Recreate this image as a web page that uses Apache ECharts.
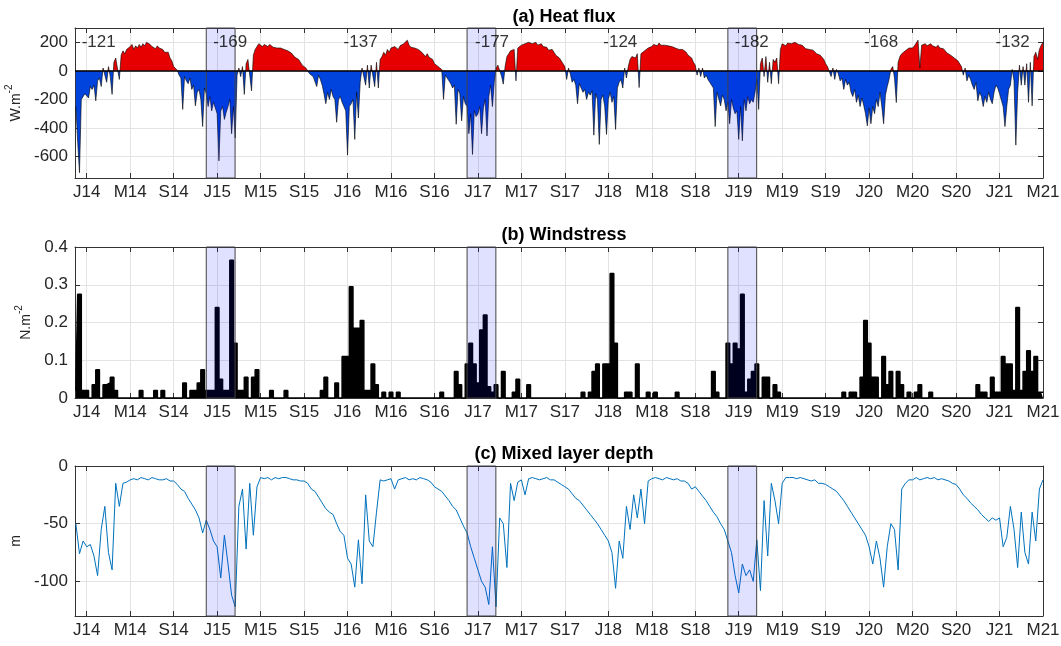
<!DOCTYPE html>
<html>
<head>
<meta charset="utf-8">
<title>Heat flux, windstress and mixed layer depth</title>
<script src="https://cdn.jsdelivr.net/npm/echarts@6/dist/echarts.min.js"></script>
<style>
  html, body { margin: 0; padding: 0; background: #fff; }
  #main { width: 1061px; height: 646px; }
</style>
</head>
<body>
<div id="main"></div>
<script>
// time in months since Jan 2014, all series start at Dec 2013 (month -1)
var t0 = -1;
var fluxStep = 1 / 6;   // heat flux: one sample every ~5 days
var step = 1 / 3;       // windstress and MLD: one sample every ~10 days

// (a) net heat flux, W.m-2  (6 values per month)
var heatFlux = [
  -250, -500, -713, -200, -190, -160,
  -150, -190, -110, -130, -100, -210,  -70, -50, -110, 20, 30, -80,  30, -40, -165, 60, 90, 100,  -60, 110, 140, 120, 150, 160,          // J14
  170, 185, 150, 175, 160, 185,  165, 190, 175, 200, 205, 185,  170, 180, 155, 175, 160, 150,  150, 130, 120, 130, 90, 70,              // M14
  30, 20, 5, -30, -50, -270,  -40, -70, -90, -50, -130, -100,  -245, -150, -130, -200, -390, -120,  -160, -250, -180, -280, -220, -260, // S14
  -300, -630, -280, -250, -340, -290,  -250, -200, -440, -250, -470, -30,  20, -40, 30, -165, 50, 80,  90, -140, 110, 150, 170, 190,    // J15
  200, 170, 185, 195, 170, 185,  175, 165, 170, 160, 165, 160,  160, 150, 155, 140, 130, 125,  110, 95, 100, 80, 60, 40,                // M15
  30, 20, 10, -20, -10, -40,  -40, -110, -30, -60, -100, -160,  -230, -150, -200, -130, -180, -200,  -360, -200, -180, -220, -250, -280, // S15
  -590, -250, -230, -200, -480, -150,  -330, -80, 20, 30, -100, 40,  -120, 40, 50, -110, 60, -120,  80, 100, 130, 110, 150, 130,        // J16
  160, 150, 170, 165, 150, 175,  175, 190, 200, 215, 180, 165,  170, 160, 165, 150, 145, 130,  120, 100, 120, 95, 105, 80,              // M16
  50, 60, 30, 20, 10, -200,  -30, -50, -70, -90, -120, -100,  -374, -130, -160, -350, -180, -230,  -250, -440, -300, -585, -280, -320,  // S16
  -300, -250, -440, -260, -200, -456,  -180, -100, -250, -80, 20, 40,  30, -35, -93, 30, 100, 120,  140, 130, 150, -70, 160, 170,       // J17
  180, 175, 190, 185, 200, 195,  190, 185, 200, 180, 175, 190,  170, 160, 165, 145, 140, 150,  130, 110, 100, 90, 80, 50,               // M17
  30, -60, 20, -20, -80, -60,  -100, -230, -90, -100, -150, -130,  -200, -150, -170, -140, -450, -160,  -200, -515, -200, -170, -250, -445, // S17
  -200, -150, -220, -180, -410, -120,  -80, -60, -120, 20, -50, 30,  80, 100, 110, 90, 120, -117,  120, 130, 140, 150, 160, 150,        // J18
  170, 185, 190, 175, 195, 180,  190, 180, 185, 175, 180, 170,  165, 160, 170, 150, 160, 150,  140, 130, 110, 100, 90, 60,              // M18
  40, -30, 20, -40, 20, -50,  -30, -60, -80, -100, -120, -390,  -150, -140, -245, -170, -200, -280,  -220, -370, -200, -260, -300, -280, // S18
  -480, -250, -490, -200, -280, -180,  -230, -200, -220, -150, -60, -270,  50, 90, -40, 100, -80, 60,  -90, 80, 60, 90, -90, 150,       // J19
  190, 180, 175, 195, 200, 190,  195, 200, 190, 185, 195, 180,  170, 155, 165, 150, 160, 145,  140, 120, 130, 110, 100, 80,              // M19
  50, 30, 20, -40, 20, -60,  10, -20, -70, -50, -130, -60,  -100, -80, -150, -180, -130, -220,  -170, -250, -190, -240, -300, -385,    // S19
  -260, -370, -250, -300, -200, -250,  -150, -250, -370, -170, -110, -60,  10, 30, -50, -222, 60, 100,  120, 110, 140, 150, 160, 150,   // J20
  160, 175, 185, 215, 20, 180,  185, 190, 175, 180, 190, 175,  175, 165, 180, 160, 150, 155,  140, 125, 120, 110, 100, 90,              // M20
  80, 70, 60, 30, -30, 20,  -70, -30, -60, -100, -130, -80,  -210, -150, -180, -250, -180, -220,  -150, -200, -230, -150, -100, -120,   // S20
  -160, -150, -250, -390, -250, -130,  -100, 10, -70, -520, -150, 40,  -100, 30, -100, 50, -220, 60,  -245, 100, 130, 80, 150, 180,     // J21
  200
];

// (b) wind stress, N.m-2  (3 values per month)
var windStress = [
  0.02, 0.275, 0.02,
  0.02, 0, 0.035, 0.075, 0, 0.035, 0.04, 0.055, 0.02, 0, 0, 0,
  0, 0, 0, 0.02, 0, 0, 0, 0.02, 0, 0.02, 0, 0,
  0, 0, 0, 0.04, 0, 0.02, 0.02, 0.04, 0.075, 0.02, 0.02, 0.02,
  0.24, 0.05, 0.02, 0.02, 0.365, 0.145, 0.02, 0.02, 0.055, 0, 0.055, 0.075,
  0, 0, 0, 0.02, 0, 0, 0, 0.02, 0, 0, 0, 0,
  0, 0, 0, 0, 0, 0.02, 0.055, 0, 0, 0.04, 0, 0.11,
  0.11, 0.295, 0.185, 0.185, 0.205, 0.02, 0.02, 0.09, 0.035, 0, 0.015, 0,
  0.015, 0, 0.015, 0, 0, 0, 0, 0, 0, 0, 0, 0,
  0, 0, 0.015, 0, 0, 0, 0.07, 0.035, 0, 0.09, 0.145, 0.09,
  0.04, 0.18, 0.22, 0.03, 0.015, 0.035, 0, 0.07, 0, 0, 0.015, 0.05,
  0, 0, 0.035, 0, 0, 0, 0, 0, 0, 0, 0, 0,
  0, 0, 0, 0, 0, 0.015, 0, 0.015, 0.07, 0.09, 0, 0.09,
  0.09, 0.33, 0.145, 0, 0, 0.015, 0.015, 0, 0.09, 0, 0, 0.015,
  0, 0.015, 0, 0, 0, 0, 0, 0.015, 0, 0, 0, 0,
  0, 0, 0, 0, 0, 0.07, 0.015, 0, 0, 0.145, 0.09, 0.145,
  0.13, 0.275, 0.015, 0.05, 0.07, 0.09, 0, 0.055, 0.055, 0, 0.035, 0.015,
  0, 0, 0, 0, 0, 0, 0, 0, 0, 0, 0, 0,
  0, 0, 0, 0, 0, 0.015, 0, 0.015, 0.015, 0, 0.055, 0.205,
  0.145, 0.055, 0.055, 0, 0.11, 0.035, 0.07, 0, 0.07, 0.035, 0, 0.015,
  0, 0.015, 0.035, 0, 0, 0.015, 0, 0, 0, 0, 0, 0,
  0, 0, 0, 0, 0, 0, 0.035, 0.015, 0.015, 0, 0.055, 0.015,
  0.015, 0.11, 0.09, 0.09, 0.02, 0.24, 0.02, 0.07, 0.125, 0.07, 0.11, 0.015,
  0.015
];

// (c) mixed layer depth, m  (3 values per month)
var mld = [
  -50, -76, -65,
  -70, -68, -78, -95, -55, -35, -75, -90, -15, -35, -15, -14,
  -12, -11, -12, -10, -11, -12, -10, -11, -12, -12, -11, -13,
  -13, -16, -20, -22, -28, -33, -38, -45, -58, -47, -55, -65,
  -70, -97, -60, -85, -112, -122, -35, -20, -72, -15, -60, -18,
  -10, -11, -10, -12, -10, -11, -10, -10, -11, -12, -12, -13,
  -13, -15, -20, -22, -27, -32, -37, -40, -42, -50, -57, -60,
  -80, -85, -105, -64, -102, -25, -65, -70, -40, -12, -13, -12,
  -11, -20, -12, -11, -10, -12, -11, -12, -10, -11, -12, -14,
  -18, -20, -22, -26, -30, -35, -38, -45, -52, -58, -70, -80,
  -90, -100, -105, -120, -70, -122, -45, -50, -88, -15, -30, -14,
  -12, -25, -11, -10, -11, -12, -11, -10, -12, -12, -14, -16,
  -18, -20, -24, -28, -30, -34, -38, -42, -46, -50, -55, -60,
  -65, -75, -106, -65, -80, -35, -55, -25, -45, -20, -50, -13,
  -11, -10, -11, -12, -10, -11, -12, -11, -13, -13, -15, -20,
  -18, -22, -26, -30, -35, -40, -44, -50, -55, -65, -75, -95,
  -110, -85, -95, -90, -100, -64, -108, -30, -78, -15, -30, -50,
  -15, -10, -10, -10, -11, -10, -11, -12, -13, -12, -15, -15,
  -16, -18, -20, -22, -26, -30, -35, -40, -45, -50, -55, -60,
  -70, -85, -65, -80, -105, -70, -50, -55, -90, -20, -15, -12,
  -12, -10, -12, -11, -10, -11, -10, -12, -11, -12, -13, -15,
  -16, -20, -25, -28, -32, -35, -38, -42, -45, -48, -45, -47,
  -45, -70, -62, -35, -55, -88, -40, -75, -85, -40, -65, -20,
  -12
];

var tickMonths = [0, 4, 8, 12, 16, 20, 24, 28, 32, 36, 40, 44, 48, 52, 56, 60, 64, 68, 72, 76, 80, 84, 88];
var tickLabels = ['J14', 'M14', 'S14', 'J15', 'M15', 'S15', 'J16', 'M16', 'S16', 'J17', 'M17', 'S17',
  'J18', 'M18', 'S18', 'J19', 'M19', 'S19', 'J20', 'M20', 'S20', 'J21', 'M21'];

// shaded winters (months since Jan 2014)
var winterStart = [11, 35, 59];
var winterEnd = [13.65, 37.65, 61.65];

// winter mean heat flux written on panel (a)
var meanFluxX = [1.1, 13.2, 25.2, 37.3, 49.1, 61.2, 73.1, 85.2];
var meanFluxText = ['-121', '-169', '-137', '-177', '-124', '-182', '-168', '-132'];

var xMin = -1.08, xMax = 88;
var axisColor = '#333333';
var labelColor = '#262626';
var gridColor = '#e3e3e3';
var font = '"Liberation Sans", Arial, Helvetica, sans-serif';

function toPairs(arr, dt) {
  return arr.map(function (v, i) { return [t0 + i * dt, v]; });
}

function xAxesFor(g) {
  return [{
    type: 'value', gridIndex: g, min: xMin, max: xMax, position: 'bottom',
    axisLine: { onZero: false, lineStyle: { color: axisColor, width: 1 } },
    axisTick: { inside: true, length: 5, customValues: tickMonths, lineStyle: { color: axisColor } },
    axisLabel: {
      customValues: tickMonths, margin: 6, fontSize: 17, color: labelColor, fontFamily: font,
      formatter: function (v) {
        var i = tickMonths.indexOf(Math.round(v));
        return i >= 0 ? tickLabels[i] : '';
      }
    },
    splitLine: { show: true, lineStyle: { color: gridColor, width: 1 } }
  }, {
    type: 'value', gridIndex: g, min: xMin, max: xMax, position: 'top',
    axisLine: { onZero: false, lineStyle: { color: axisColor, width: 1 } },
    axisTick: { inside: true, length: 5, customValues: tickMonths, lineStyle: { color: axisColor } },
    axisLabel: { show: false },
    splitLine: { show: false }
  }];
}

function yAxesFor(g, min, max, ticks, interval, nameRich, nameGap) {
  var left = {
    type: 'value', gridIndex: g, min: min, max: max, position: 'left',
    name: nameRich, nameLocation: 'middle', nameGap: nameGap, nameRotate: 90,
    nameTextStyle: {
      rich: {
        b: { fontSize: 14, color: labelColor, fontFamily: font, lineHeight: 19, verticalAlign: 'bottom' },
        s: { fontSize: 10, color: labelColor, fontFamily: font, verticalAlign: 'top' }
      }
    },
    axisLine: { onZero: false, lineStyle: { color: axisColor, width: 1 } },
    axisTick: { inside: true, length: 5, lineStyle: { color: axisColor } },
    axisLabel: { margin: 7, fontSize: 17, color: labelColor, fontFamily: font },
    splitLine: { show: true, lineStyle: { color: gridColor, width: 1 } }
  };
  var right = {
    type: 'value', gridIndex: g, min: min, max: max, position: 'right',
    axisLine: { onZero: false, lineStyle: { color: axisColor, width: 1 } },
    axisTick: { inside: true, length: 5, lineStyle: { color: axisColor } },
    axisLabel: { show: false },
    splitLine: { show: false }
  };
  if (ticks) {
    left.axisTick.customValues = ticks;
    left.axisLabel.customValues = ticks;
    right.axisTick.customValues = ticks;
  } else {
    left.interval = interval;
    right.interval = interval;
  }
  return [left, right];
}

var grids = [
  { left: 75, right: 18, top: 28, height: 150, outerBoundsMode: 'none' },
  { left: 75, right: 18, top: 247, height: 151, outerBoundsMode: 'none' },
  { left: 75, right: 18, top: 466, height: 150, outerBoundsMode: 'none' }
];

// hard red/blue split at the zero line of panel (a)
var yMinA = -750, yMaxA = 300;
var zeroFrac = yMaxA / (yMaxA - yMinA);
var fluxFill = {
  type: 'linear', x: 0, y: grids[0].top, x2: 0, y2: grids[0].top + grids[0].height, global: true,
  colorStops: [
    { offset: 0, color: '#e60000' }, { offset: zeroFrac, color: '#e60000' },
    { offset: zeroFrac, color: '#0044dd' }, { offset: 1, color: '#0044dd' }
  ]
};

function winterAreas() {
  return {
    silent: true, z: 6,
    itemStyle: { color: 'rgba(0,0,255,0.12)', borderColor: '#444', borderWidth: 1 },
    data: winterStart.map(function (s, i) { return [{ xAxis: s }, { xAxis: winterEnd[i] }]; })
  };
}

function panelTitle(text, top) {
  return {
    text: text, left: 559, top: top, textAlign: 'center',
    textStyle: { fontSize: 18, fontWeight: 'bold', color: '#000', fontFamily: font }
  };
}

var chart = echarts.init(document.getElementById('main'));

chart.setOption({
  animation: false,
  backgroundColor: '#fff',
  textStyle: { fontFamily: font },
  title: [
    panelTitle('(a) Heat flux', 3),
    panelTitle('(b) Windstress', 221),
    panelTitle('(c) Mixed layer depth', 440)
  ],
  grid: grids,
  xAxis: [].concat(xAxesFor(0), xAxesFor(1), xAxesFor(2)),
  yAxis: [].concat(
    yAxesFor(0, yMinA, yMaxA, [-600, -400, -200, 0, 200], null, '{b|W.m}{s|-2}', 45),
    yAxesFor(1, 0, 0.4, null, 0.1, '{b|N.m}{s|-2}', 30),
    yAxesFor(2, -130, 0, [-100, -50, 0], null, '{b|m}', 42)
  ),
  series: [
    {
      name: 'Heat flux', type: 'line', xAxisIndex: 0, yAxisIndex: 0,
      data: toPairs(heatFlux, fluxStep), showSymbol: false, z: 3,
      lineStyle: { color: '#000', width: 0.6 },
      areaStyle: { color: fluxFill, opacity: 1 },
      markLine: {
        silent: true, symbol: 'none', z: 7,
        lineStyle: { color: '#000', width: 1.5, type: 'solid' },
        label: { show: false },
        data: [{ yAxis: 0 }]
      },
      markArea: winterAreas()
    },
    {
      name: 'Winter mean', type: 'scatter', xAxisIndex: 0, yAxisIndex: 0, z: 8,
      symbolSize: 1, itemStyle: { color: 'rgba(0,0,0,0)' },
      data: meanFluxX.map(function (x, i) { return [x, 200, meanFluxText[i]]; }),
      label: {
        show: true, position: 'inside', fontSize: 17, color: '#000', fontFamily: font,
        formatter: function (p) { return p.value[2]; }
      }
    },
    {
      name: 'Windstress', type: 'line', xAxisIndex: 2, yAxisIndex: 2,
      data: toPairs(windStress, step), showSymbol: false, step: 'middle', clip: false, z: 3,
      lineStyle: { color: '#000', width: 1.5 },
      areaStyle: { color: '#000', opacity: 1 },
      markArea: winterAreas()
    },
    {
      name: 'Mixed layer depth', type: 'line', xAxisIndex: 4, yAxisIndex: 4,
      data: toPairs(mld, step), showSymbol: false, z: 3,
      lineStyle: { color: '#0072bd', width: 1 },
      markArea: winterAreas()
    }
  ]
});
</script>
</body>
</html>
